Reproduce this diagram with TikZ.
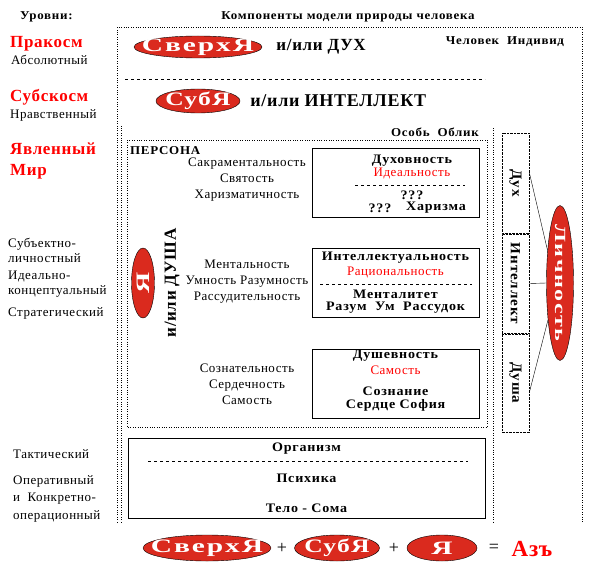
\documentclass[tikz,border=0pt]{standalone}
\usepackage{fontspec}
\setmainfont{Liberation Serif}[LetterSpace=4]
\newfontfamily\ovalfont{Liberation Serif}[FakeStretch=1.55,LetterSpace=10]
\newfontfamily\ovalnarrow{Liberation Serif}[FakeStretch=1.35,LetterSpace=6]
\newfontfamily\hdfont{Liberation Serif}[FakeStretch=1.08,LetterSpace=6]
\usetikzlibrary{positioning,shapes.geometric,calc}
\definecolor{ovalred}{RGB}{218,42,30}
\definecolor{wordred}{RGB}{255,0,0}

\begin{document}
\begin{tikzpicture}[x=1pt,y=-1pt,font=\fontsize{13}{16}\selectfont,
   oval/.style={ellipse,draw,fill=ovalred,inner sep=0pt},
   ovaltext/.style={text=white,inner sep=0pt,font=\ovalfont\fontsize{19}{19}\selectfont\bfseries},
   ovalsub/.style={ovaltext,font=\ovalnarrow\fontsize{19}{19}\selectfont\bfseries},
   hd/.style={font=\hdfont\fontsize{12}{13}\selectfont\bfseries},
   lvl/.style={anchor=west,align=left,inner sep=0pt},
   lvlred/.style={lvl,text=wordred,font=\fontsize{17}{21}\selectfont\bfseries},
   terms/.style={align=center,inner sep=0pt},
   big/.style={font=\fontsize{18}{20}\selectfont\bfseries,inner sep=0pt},
   qbox/.style={draw,thick,minimum width=167pt,minimum height=69pt},
   qb/.style={font=\hdfont\fontsize{13}{14}\selectfont\bfseries,inner sep=0pt},
   qr/.style={text=wordred,inner sep=0pt},
   facet/.style={draw,densely dotted,minimum height=27pt,inner sep=0pt,
     font=\hdfont\fontsize{14}{14}\selectfont\bfseries}]
  \useasboundingbox (0,0) rectangle (591,575);

  % levels
  \node[hd,lvl] (lvlhead) at (20,17) {Уровни:};
  \node[hd] (comphead) at (348,17) {Компоненты модели природы человека};
  \node[lvlred] (prakosm) at (10,44) {Пракосм};
  \node[lvl] (abs) at (11,60) {Абсолютный};
  \node[lvlred] (subkosm) at (10,97) {Субскосм};
  \node[lvl] (nrav) at (10,115) {Нравственный};
  \node[lvlred] (yavl) at (10,160.5) {Явленный\\Мир};
  \node[lvl,font=\fontsize{13}{15}\selectfont] (subj) at (8,250.5) {Субъектно-\\личностный};
  \node[lvl,font=\fontsize{13}{15}\selectfont] (ideal) at (8,284.5) {Идеально-\\концептуальный};
  \node[lvl] (strat) at (8,313) {Стратегический};
  \node[lvl] (takt) at (13,454) {Тактический};
  \node[lvl,font=\fontsize{13}{17.5}\selectfont] (oper) at (13,498.5) {Оперативный\\и~~Конкретно-\\операционный};

  % frames
  \draw[dotted] (117,522) -- (117,27) -- (582,27) -- (582,522);
  \draw[dotted] (121,522) -- (121,125);
  \draw[dotted] (493,128) -- (493,522);
  \draw[dotted] (127,140) rectangle (487,427);
  \draw[dashed] (125,79) -- (485,79);

  % top
  \node[oval,minimum width=128pt,minimum height=22pt,label={[ovaltext]center:СверхЯ}] (sverh) at (198,47) {};
  \node[big,right=14pt of sverh,font=\fontsize{17}{20}\selectfont\bfseries] (dux) {и/или ДУХ};
  \node[hd] (indiv) at (505,42) {Человек~~Индивид};
  \node[oval,minimum width=84pt,minimum height=24pt,label={[ovalsub]center:СубЯ}] (sub) at (198,101) {};
  \node[big,right=10pt of sub] (intel) {и/или ИНТЕЛЛЕКТ};
  \node[hd] (osob) at (435,132) {Особь~~Облик};

  % persona
  \node[hd,lvl] (persona) at (130,151) {ПЕРСОНА};
  \node[terms] (t1) at (247,180) {Сакраментальность\\Святость\\Харизматичность};
  \node[terms] (t2) at (247,282) {Ментальность\\Умность Разумность\\Рассудительность};
  \node[terms] (t3) at (247,384.5) {Сознательность\\Сердечность\\Самость};
  \node[oval,minimum width=23pt,minimum height=70pt,label={[ovaltext,rotate=90]center:Я}] (ya) at (143,283) {};
  \node[big,rotate=90,font=\fontsize{17}{20}\selectfont\bfseries] (dusha) at (172,283) {и/или ДУША};

  % boxes
  \node[qbox] (b1) at (395.5,182.5) {};
  \node[qb] (b1a) at (412,161) {Духовность};
  \node[qr] (b1b) at (412,174) {Идеальность};
  \draw[dashed] (355,185) -- (465,185);
  \node[qb] (b1c) at (412,195) {???};
  \node[qb] (b1d) at (380,208) {???};
  \node[qb] (b1e) at (436,208) {Харизма};

  \node[qbox] (b2) at (395.5,283) {};
  \node[qb] (b2a) at (395.5,258) {Интеллектуальность};
  \node[qr] (b2b) at (395.5,272) {Рациональность};
  \draw[dashed] (320,284) -- (472,284);
  \node[qb] (b2c) at (395.5,294) {Менталитет};
  \node[qb] (b2d) at (395.5,308) {Разум~~Ум~~Рассудок};

  \node[qbox] (b3) at (395.5,383.5) {};
  \node[qb] (b3a) at (395.5,356) {Душевность};
  \node[qr] (b3b) at (395.5,370) {Самость};
  \node[qb] (b3c) at (395.5,391) {Сознание};
  \node[qb] (b3d) at (395.5,405) {Сердце София};

  \node[qbox,minimum width=357pt,minimum height=80pt] (b4) at (306.5,478) {};
  \node[qb] (b4a) at (306.5,449) {Организм};
  \draw[dashed] (148,461) -- (468,461);
  \node[qb] (b4b) at (306.5,478) {Психика};
  \node[qb] (b4c) at (306.5,508) {Тело - Сома};

  % right column
  \node[facet,rotate=-90,minimum width=100pt] (fdux) at (515.5,183) {Дух};
  \node[facet,rotate=-90,minimum width=99pt] (fint) at (515.5,283.5) {Интеллект};
  \node[facet,rotate=-90,minimum width=98pt] (fdush) at (515.5,383) {Душа};
  \node[oval,minimum width=27pt,minimum height=155pt,
        label={[ovaltext,rotate=-90,font=\ovalfont\fontsize{15.5}{16}\selectfont\bfseries]center:Личность}] (lich) at (560,283) {};
  \draw ($(fdux.north)+(0,-11)$) -- (lich.111);
  \draw (fint.north) -- (lich.west);
  \draw ($(fdush.north)+(0,10)$) -- (lich.252);

  % formula
  \node[oval,minimum width=128pt,minimum height=26pt,label={[ovaltext]center:СверхЯ}] (sverh2) at (207,548) {};
  \node[font=\fontsize{18}{18}\selectfont] (plus1) at (282,548) {+};
  \node[oval,minimum width=85pt,minimum height=26pt,label={[ovalsub]center:СубЯ}] (sub2) at (337,548) {};
  \node[font=\fontsize{18}{18}\selectfont] (plus2) at (394,548) {+};
  \node[oval,minimum width=70pt,minimum height=26pt,label={[ovaltext]center:Я}] (ya2) at (442,548) {};
  \node[font=\fontsize{18}{18}\selectfont] (eq) at (494,548) {=};
  \node[text=wordred,font=\fontsize{23}{23}\selectfont\bfseries] (az) at (532,549) {Азъ};
\end{tikzpicture}
\end{document}
